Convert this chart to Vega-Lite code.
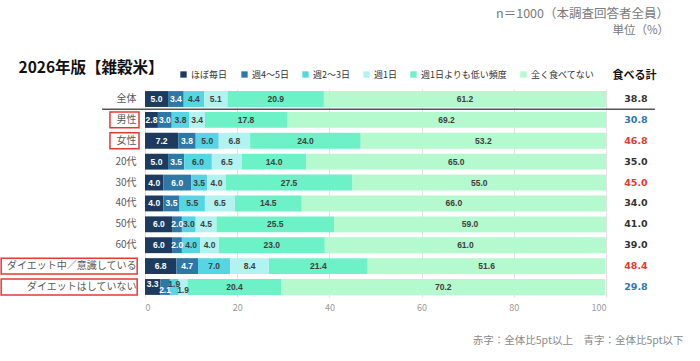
{
  "$schema": "https://vega.github.io/schema/vega-lite/v6.json",
  "width": 461,
  "height": 208,
  "autosize": "none",
  "padding": {"left": 145, "top": 89, "right": 94, "bottom": 64},
  "background": "white",
  "config": {
    "font": "Noto Sans CJK JP",
    "view": {"stroke": null}
  },
  "title": {
    "text": "n＝1000（本調査回答者全員）",
    "subtitle": "単位（%）",
    "anchor": "end",
    "frame": "group",
    "dx": 63,
    "offset": 24,
    "fontSize": 12.5,
    "fontWeight": "normal",
    "color": "#7a7a7a",
    "subtitleFontSize": 11.5,
    "subtitleColor": "#7a7a7a",
    "subtitlePadding": 4
  },
  "datasets": {
    "freq": [
      {"cat": "全体", "freq": "ほぼ毎日", "k": 1, "value": 5.0},
      {"cat": "全体", "freq": "週4～5日", "k": 2, "value": 3.4},
      {"cat": "全体", "freq": "週2～3日", "k": 3, "value": 4.4},
      {"cat": "全体", "freq": "週1日", "k": 4, "value": 5.1},
      {"cat": "全体", "freq": "週1日よりも低い頻度", "k": 5, "value": 20.9},
      {"cat": "全体", "freq": "全く食べてない", "k": 6, "value": 61.2},
      {"cat": "男性", "freq": "ほぼ毎日", "k": 1, "value": 2.8},
      {"cat": "男性", "freq": "週4～5日", "k": 2, "value": 3.0},
      {"cat": "男性", "freq": "週2～3日", "k": 3, "value": 3.8},
      {"cat": "男性", "freq": "週1日", "k": 4, "value": 3.4},
      {"cat": "男性", "freq": "週1日よりも低い頻度", "k": 5, "value": 17.8},
      {"cat": "男性", "freq": "全く食べてない", "k": 6, "value": 69.2},
      {"cat": "女性", "freq": "ほぼ毎日", "k": 1, "value": 7.2},
      {"cat": "女性", "freq": "週4～5日", "k": 2, "value": 3.8},
      {"cat": "女性", "freq": "週2～3日", "k": 3, "value": 5.0},
      {"cat": "女性", "freq": "週1日", "k": 4, "value": 6.8},
      {"cat": "女性", "freq": "週1日よりも低い頻度", "k": 5, "value": 24.0},
      {"cat": "女性", "freq": "全く食べてない", "k": 6, "value": 53.2},
      {"cat": "20代", "freq": "ほぼ毎日", "k": 1, "value": 5.0},
      {"cat": "20代", "freq": "週4～5日", "k": 2, "value": 3.5},
      {"cat": "20代", "freq": "週2～3日", "k": 3, "value": 6.0},
      {"cat": "20代", "freq": "週1日", "k": 4, "value": 6.5},
      {"cat": "20代", "freq": "週1日よりも低い頻度", "k": 5, "value": 14.0},
      {"cat": "20代", "freq": "全く食べてない", "k": 6, "value": 65.0},
      {"cat": "30代", "freq": "ほぼ毎日", "k": 1, "value": 4.0},
      {"cat": "30代", "freq": "週4～5日", "k": 2, "value": 6.0},
      {"cat": "30代", "freq": "週2～3日", "k": 3, "value": 3.5},
      {"cat": "30代", "freq": "週1日", "k": 4, "value": 4.0},
      {"cat": "30代", "freq": "週1日よりも低い頻度", "k": 5, "value": 27.5},
      {"cat": "30代", "freq": "全く食べてない", "k": 6, "value": 55.0},
      {"cat": "40代", "freq": "ほぼ毎日", "k": 1, "value": 4.0},
      {"cat": "40代", "freq": "週4～5日", "k": 2, "value": 3.5},
      {"cat": "40代", "freq": "週2～3日", "k": 3, "value": 5.5},
      {"cat": "40代", "freq": "週1日", "k": 4, "value": 6.5},
      {"cat": "40代", "freq": "週1日よりも低い頻度", "k": 5, "value": 14.5},
      {"cat": "40代", "freq": "全く食べてない", "k": 6, "value": 66.0},
      {"cat": "50代", "freq": "ほぼ毎日", "k": 1, "value": 6.0},
      {"cat": "50代", "freq": "週4～5日", "k": 2, "value": 2.0},
      {"cat": "50代", "freq": "週2～3日", "k": 3, "value": 3.0},
      {"cat": "50代", "freq": "週1日", "k": 4, "value": 4.5},
      {"cat": "50代", "freq": "週1日よりも低い頻度", "k": 5, "value": 25.5},
      {"cat": "50代", "freq": "全く食べてない", "k": 6, "value": 59.0},
      {"cat": "60代", "freq": "ほぼ毎日", "k": 1, "value": 6.0},
      {"cat": "60代", "freq": "週4～5日", "k": 2, "value": 2.0},
      {"cat": "60代", "freq": "週2～3日", "k": 3, "value": 4.0},
      {"cat": "60代", "freq": "週1日", "k": 4, "value": 4.0},
      {"cat": "60代", "freq": "週1日よりも低い頻度", "k": 5, "value": 23.0},
      {"cat": "60代", "freq": "全く食べてない", "k": 6, "value": 61.0},
      {"cat": "ダイエット中／意識している", "freq": "ほぼ毎日", "k": 1, "value": 6.8},
      {"cat": "ダイエット中／意識している", "freq": "週4～5日", "k": 2, "value": 4.7},
      {"cat": "ダイエット中／意識している", "freq": "週2～3日", "k": 3, "value": 7.0},
      {"cat": "ダイエット中／意識している", "freq": "週1日", "k": 4, "value": 8.4},
      {"cat": "ダイエット中／意識している", "freq": "週1日よりも低い頻度", "k": 5, "value": 21.4},
      {"cat": "ダイエット中／意識している", "freq": "全く食べてない", "k": 6, "value": 51.6},
      {"cat": "ダイエットはしていない", "freq": "ほぼ毎日", "k": 1, "value": 3.3},
      {"cat": "ダイエットはしていない", "freq": "週4～5日", "k": 2, "value": 2.1},
      {"cat": "ダイエットはしていない", "freq": "週2～3日", "k": 3, "value": 1.9},
      {"cat": "ダイエットはしていない", "freq": "週1日", "k": 4, "value": 1.9},
      {"cat": "ダイエットはしていない", "freq": "週1日よりも低い頻度", "k": 5, "value": 20.4},
      {"cat": "ダイエットはしていない", "freq": "全く食べてない", "k": 6, "value": 70.2}
    ],
    "totals": [
      {"cat": "全体", "total": 38.8},
      {"cat": "男性", "total": 30.8},
      {"cat": "女性", "total": 46.8},
      {"cat": "20代", "total": 35.0},
      {"cat": "30代", "total": 45.0},
      {"cat": "40代", "total": 34.0},
      {"cat": "50代", "total": 41.0},
      {"cat": "60代", "total": 39.0},
      {"cat": "ダイエット中／意識している", "total": 48.4},
      {"cat": "ダイエットはしていない", "total": 29.8}
    ]
  },
  "resolve": {"axis": {"y": "independent"}},
  "layer": [
    {
      "data": {"name": "freq"},
      "mark": {"type": "bar"},
      "encoding": {
        "y": {
          "field": "cat",
          "type": "nominal",
          "sort": ["全体", "男性", "女性", "20代", "30代", "40代", "50代", "60代", "ダイエット中／意識している", "ダイエットはしていない"],
          "scale": {"paddingInner": 0.24, "paddingOuter": 0.1},
          "axis": {
            "orient": "left",
            "title": "2026年版【雑穀米】",
            "titleAngle": 0,
            "titleAlign": "left",
            "titleBaseline": "middle",
            "titleX": -127,
            "titleY": -22,
            "titleFontSize": 15.5,
            "titleFontWeight": "bold",
            "titleColor": "#111",
            "labelFontSize": 10,
            "labelColor": "#595959",
            "labelPadding": 9,
            "ticks": false,
            "domain": false,
            "grid": false
          }
        },
        "x": {
          "field": "value",
          "type": "quantitative",
          "stack": "zero",
          "scale": {"domain": [0, 100], "nice": false},
          "axis": {
            "values": [0, 20, 40, 60, 80, 100],
            "labelFontSize": 9,
            "labelColor": "#999999",
            "labelPadding": 6,
            "ticks": false,
            "domain": false,
            "grid": true,
            "gridColor": "#e3e3e3",
            "title": "赤字：全体比5pt以上　青字：全体比5pt以下",
            "titleAlign": "right",
            "titleAnchor": null,
            "titleX": 538,
            "titleY": 43,
            "titleBaseline": "middle",
            "titleFontSize": 10.5,
            "titleFontWeight": "normal",
            "titleColor": "#8a8a8a"
          }
        },
        "order": {"field": "k", "type": "quantitative", "sort": "ascending"},
        "color": {
          "field": "freq",
          "type": "nominal",
          "scale": {
            "domain": ["ほぼ毎日", "週4～5日", "週2～3日", "週1日", "週1日よりも低い頻度", "全く食べてない"],
            "range": ["#1d3b5e", "#2e78a8", "#55d6e2", "#b2f2f0", "#6cf2c6", "#b5f9cf"]
          },
          "legend": {
            "orient": "none",
            "legendX": 34,
            "legendY": -19,
            "direction": "horizontal",
            "gridAlign": "none",
            "title": null,
            "symbolType": "square",
            "symbolSize": 40,
            "symbolStrokeWidth": 0,
            "labelFontSize": 9,
            "labelColor": "#333333",
            "labelOffset": 3,
            "columnPadding": 12
          }
        }
      }
    },
    {
      "data": {"name": "freq"},
      "mark": {"type": "text", "fontSize": 8.5, "fontWeight": "bold", "font": "Liberation Sans"},
      "encoding": {
        "y": {
          "field": "cat",
          "type": "nominal",
          "sort": ["全体", "男性", "女性", "20代", "30代", "40代", "50代", "60代", "ダイエット中／意識している", "ダイエットはしていない"],
          "axis": null
        },
        "x": {"field": "value", "type": "quantitative", "stack": "zero", "bandPosition": 0.5},
        "detail": {"field": "freq", "type": "nominal"},
        "order": {"field": "k", "type": "quantitative", "sort": "ascending"},
        "text": {
          "condition": {"test": "datum.cat === 'ダイエットはしていない' && datum.k <= 4", "value": ""},
          "field": "value", "type": "quantitative", "format": ".1f"
        },
        "color": {
          "condition": {"test": "datum.k <= 2", "value": "#ffffff"},
          "value": "#404040"
        }
      }
    },
    {
      "data": {"name": "freq"},
      "mark": {"type": "text", "fontSize": 8.5, "fontWeight": "bold", "font": "Liberation Sans", "dy": -3},
      "encoding": {
        "y": {
          "field": "cat",
          "type": "nominal",
          "sort": ["全体", "男性", "女性", "20代", "30代", "40代", "50代", "60代", "ダイエット中／意識している", "ダイエットはしていない"],
          "axis": null
        },
        "x": {"field": "value", "type": "quantitative", "stack": "zero", "bandPosition": 0.5},
        "detail": {"field": "freq", "type": "nominal"},
        "order": {"field": "k", "type": "quantitative", "sort": "ascending"},
        "text": {
          "condition": {"test": "!(datum.cat === 'ダイエットはしていない' && (datum.k === 1 || datum.k === 3))", "value": ""},
          "field": "value", "type": "quantitative", "format": ".1f"
        },
        "color": {
          "condition": {"test": "datum.k <= 2", "value": "#ffffff"},
          "value": "#404040"
        }
      }
    },
    {
      "data": {"name": "freq"},
      "mark": {"type": "text", "fontSize": 8.5, "fontWeight": "bold", "font": "Liberation Sans", "dy": 3},
      "encoding": {
        "y": {
          "field": "cat",
          "type": "nominal",
          "sort": ["全体", "男性", "女性", "20代", "30代", "40代", "50代", "60代", "ダイエット中／意識している", "ダイエットはしていない"],
          "axis": null
        },
        "x": {"field": "value", "type": "quantitative", "stack": "zero", "bandPosition": 0.5},
        "detail": {"field": "freq", "type": "nominal"},
        "order": {"field": "k", "type": "quantitative", "sort": "ascending"},
        "text": {
          "condition": {"test": "!(datum.cat === 'ダイエットはしていない' && (datum.k === 2 || datum.k === 4))", "value": ""},
          "field": "value", "type": "quantitative", "format": ".1f"
        },
        "color": {
          "condition": {"test": "datum.k <= 2", "value": "#ffffff"},
          "value": "#404040"
        }
      }
    },
    {
      "data": {"name": "totals"},
      "mark": {"type": "text", "fontSize": 9.5, "fontWeight": "bold", "font": "DejaVu Sans"},
      "encoding": {
        "y": {
          "field": "cat",
          "type": "nominal",
          "sort": ["全体", "男性", "女性", "20代", "30代", "40代", "50代", "60代", "ダイエット中／意識している", "ダイエットはしていない"],
          "axis": {
            "orient": "right",
            "labels": false,
            "ticks": false,
            "domain": false,
            "grid": false,
            "title": "食べる計",
            "titleAngle": 0,
            "titleAlign": "center",
            "titleBaseline": "middle",
            "titleX": 28,
            "titleY": -14,
            "titleFontSize": 11,
            "titleFontWeight": "bold",
            "titleColor": "#111"
          }
        },
        "x": {"datum": 106.5, "type": "quantitative"},
        "text": {"field": "total", "type": "quantitative", "format": ".1f"},
        "color": {
          "condition": [
            {"test": "datum.total - 38.8 >= 5", "value": "#e53935"},
            {"test": "datum.total - 38.8 <= -5", "value": "#2e75b6"}
          ],
          "value": "#333333"
        }
      }
    },
    {
      "data": {"name": "totals"},
      "transform": [{"filter": {"field": "cat", "oneOf": ["男性", "女性"]}}],
      "mark": {"type": "rect", "fill": null, "stroke": "#e53935", "strokeWidth": 1.5},
      "encoding": {
        "y": {"field": "cat", "type": "nominal", "axis": null, "sort": ["全体", "男性", "女性", "20代", "30代", "40代", "50代", "60代", "ダイエット中／意識している", "ダイエットはしていない"]},
        "x": {"datum": -7.6, "type": "quantitative"},
        "x2": {"datum": -1.3}
      }
    },
    {
      "data": {"name": "totals"},
      "transform": [{"filter": {"field": "cat", "oneOf": ["ダイエット中／意識している", "ダイエットはしていない"]}}],
      "mark": {"type": "rect", "fill": null, "stroke": "#e53935", "strokeWidth": 1.5},
      "encoding": {
        "y": {"field": "cat", "type": "nominal", "axis": null, "sort": ["全体", "男性", "女性", "20代", "30代", "40代", "50代", "60代", "ダイエット中／意識している", "ダイエットはしていない"]},
        "x": {"datum": -31.2, "type": "quantitative"},
        "x2": {"datum": -1.7}
      }
    },
    {
      "data": {"name": "totals"},
      "transform": [{"filter": {"field": "cat", "equal": "全体"}}],
      "mark": {"type": "rule", "stroke": "#555555", "strokeWidth": 1.5},
      "encoding": {
        "y": {"field": "cat", "type": "nominal", "axis": null, "bandPosition": 1.15, "sort": ["全体", "男性", "女性", "20代", "30代", "40代", "50代", "60代", "ダイエット中／意識している", "ダイエットはしていない"]},
        "x": {"datum": -9.3, "type": "quantitative"},
        "x2": {"datum": 110.6}
      }
    }
  ]
}
